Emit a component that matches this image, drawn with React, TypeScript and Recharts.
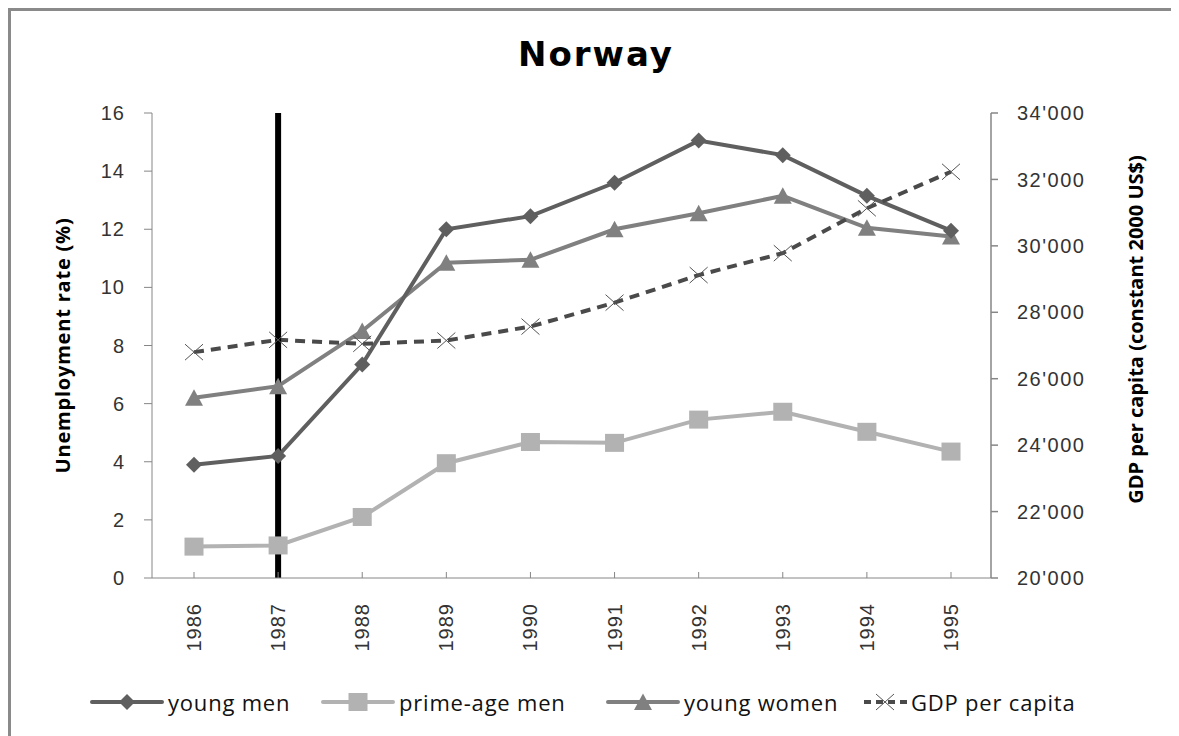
import { Line, LineChart, ReferenceLine, XAxis, YAxis } from "recharts";

const years = ["1986", "1987", "1988", "1989", "1990", "1991", "1992", "1993", "1994", "1995"];
const youngMen = [3.9, 4.2, 7.35, 12.0, 12.45, 13.6, 15.05, 14.55, 13.15, 11.95];
const primeAgeMen = [1.08, 1.12, 2.1, 3.95, 4.68, 4.65, 5.45, 5.72, 5.03, 4.35];
const youngWomen = [6.2, 6.6, 8.5, 10.85, 10.95, 12.0, 12.55, 13.15, 12.05, 11.75];
const gdpPerCapita = [26800, 27170, 27050, 27150, 27570, 28290, 29120, 29780, 31130, 32230];
const leftTicks = [0, 2, 4, 6, 8, 10, 12, 14, 16];
const rightTicks = [20000, 22000, 24000, 26000, 28000, 30000, 32000, 34000];

const data = years.map((year, i) => ({
  year,
  youngMen: youngMen[i],
  primeAgeMen: primeAgeMen[i],
  youngWomen: youngWomen[i],
  gdp: gdpPerCapita[i],
}));

const C_MEN = "#5f5f5f";
const C_PRIME = "#b2b2b2";
const C_WOMEN = "#808080";
const C_GDP = "#4a4a4a";
const AXIS = "#868686";
const TICK_FONT = "'Liberation Sans', Arial, sans-serif";
const LABEL_FONT = "'Open Sans', sans-serif";

const fmtThousands = (v: number) => `${Math.floor(v / 1000)}'${String(v % 1000).padStart(3, "0")}`;

const Diamond = ({ cx, cy }: any) =>
  cx == null ? null : (
    <path d={`M${cx},${cy - 8} L${cx + 8},${cy} L${cx},${cy + 8} L${cx - 8},${cy} Z`} fill={C_MEN} />
  );
const Square = ({ cx, cy }: any) =>
  cx == null ? null : <rect x={cx - 9.5} y={cy - 9} width={19} height={18} fill={C_PRIME} />;
const Triangle = ({ cx, cy }: any) =>
  cx == null ? null : (
    <path d={`M${cx},${cy - 8.5} L${cx + 9},${cy + 8} L${cx - 9},${cy + 8} Z`} fill={C_WOMEN} />
  );
const Cross = ({ cx, cy }: any) =>
  cx == null ? null : (
    <path d={`M${cx - 9},${cy - 8} L${cx + 9},${cy + 8} M${cx + 9},${cy - 8} L${cx - 9},${cy + 8}`} stroke="#555" strokeWidth={1} fill="none" />
  );

const YearTick = ({ x, y, payload }: any) => (
  <text
    x={x}
    y={y}
    transform={`rotate(-90 ${x} ${y})`}
    textAnchor="end"
    dy="0.35em"
    fill="#333"
    fontSize={20}
    fontFamily={TICK_FONT}
    letterSpacing={1}
  >
    {payload.value}
  </text>
);

const AxisTitle = ({ viewBox, text, dx, dy, spacing }: any) => {
  const cx = viewBox.x + dx;
  const cy = viewBox.y + viewBox.height / 2 + (dy || 0);
  return (
    <text
      x={cx}
      y={cy}
      transform={`rotate(-90 ${cx} ${cy})`}
      textAnchor="middle"
      dominantBaseline="central"
      fontSize={20}
      fontWeight="bold"
      fontFamily={LABEL_FONT}
      letterSpacing={spacing || 0}
      fill="#000"
    >
      {text}
    </text>
  );
};

// where each legend text starts (wrapper coords)
const legendItems = [
  { name: "young men", color: C_MEN, marker: "diamond", left: 157 },
  { name: "prime-age men", color: C_PRIME, marker: "square", left: 388 },
  { name: "young women", color: C_WOMEN, marker: "triangle", left: 673 },
  { name: "GDP per capita", color: C_GDP, marker: "cross", left: 900 },
];

const LegendIcon = ({ color, marker }: any) =>
  marker === "cross" ? (
    <svg width={74} height={24} style={{ display: "block" }}>
      <line x1={31} y1={12} x2={74} y2={12} stroke={color} strokeWidth={4} strokeDasharray="7 5" />
      <Cross cx={52} cy={12} />
    </svg>
  ) : (
    <svg width={74} height={24} style={{ display: "block" }}>
      <line x1={2} y1={12} x2={72} y2={12} stroke={color} strokeWidth={4} strokeLinecap="round" />
      {marker === "diamond" && <Diamond cx={37} cy={12} />}
      {marker === "square" && <Square cx={37} cy={12} />}
      {marker === "triangle" && <Triangle cx={37} cy={12} />}
    </svg>
  );

export default function App() {
  return (
    <div
      style={{
        position: "relative",
        width: 1220,
        height: 760,
        borderLeft: "3px solid #8a8a8a",
        borderTop: "3px solid #8a8a8a",
        boxSizing: "border-box",
        background: "#fff",
        overflow: "hidden",
      }}
    >
      <style>{"html,body{overflow:hidden}"}</style>
      <div
        style={{
          position: "absolute",
          left: 0,
          top: 26,
          width: 1170,
          textAlign: "center",
          fontFamily: "'DejaVu Sans', sans-serif",
          fontWeight: "bold",
          fontSize: 34,
          lineHeight: "34px",
          letterSpacing: 2,
          color: "#000",
        }}
      >
        Norway
      </div>
      <div style={{ position: "absolute", left: -3, top: -3 }}>
        <LineChart width={1150} height={720} data={data} margin={{ top: 105, right: 0, bottom: 80, left: 0 }}>
          <XAxis
            dataKey="year"
            padding={{ left: 42, right: 40 }}
            stroke={AXIS}
            tickSize={-6}
            tickMargin={31}
            height={70}
            tick={<YearTick />}
            interval={0}
          />
          <YAxis
            yAxisId="left"
            domain={[0, 16]}
            ticks={leftTicks}
            width={144}
            stroke={AXIS}
            tickSize={8}
            tickMargin={19}
            tick={{ fill: "#333", fontSize: 20, fontFamily: TICK_FONT, letterSpacing: 1 }}
            label={{ content: (p: any) => <AxisTitle {...p} text="Unemployment rate (%)" dx={54} spacing={0.8} /> }}
          />
          <YAxis
            yAxisId="right"
            orientation="right"
            domain={[20000, 34000]}
            ticks={rightTicks}
            width={167}
            stroke={AXIS}
            strokeWidth={1.5}
            tickSize={7}
            tickMargin={19}
            tickFormatter={fmtThousands}
            tick={{ fill: "#333", fontSize: 20, fontFamily: TICK_FONT, letterSpacing: 1.5, textAnchor: "start" }}
            label={{ content: (p: any) => <AxisTitle {...p} text="GDP per capita (constant 2000 US$)" dx={144} dy={-16} /> }}
          />
          <Line
            yAxisId="left"
            dataKey="primeAgeMen"
            stroke={C_PRIME}
            strokeWidth={4}
            dot={<Square />}
            activeDot={false}
            isAnimationActive={false}
          />
          <Line
            yAxisId="left"
            dataKey="youngWomen"
            stroke={C_WOMEN}
            strokeWidth={4}
            dot={<Triangle />}
            activeDot={false}
            isAnimationActive={false}
          />
          <Line
            yAxisId="left"
            dataKey="youngMen"
            stroke={C_MEN}
            strokeWidth={4}
            dot={<Diamond />}
            activeDot={false}
            isAnimationActive={false}
          />
          <Line
            yAxisId="right"
            dataKey="gdp"
            stroke={C_GDP}
            strokeWidth={4}
            strokeDasharray="10 7"
            dot={<Cross />}
            activeDot={false}
            isAnimationActive={false}
          />
          <ReferenceLine yAxisId="left" x="1987" stroke="#000" strokeWidth={6} />
        </LineChart>
      </div>
      {legendItems.map((it) => (
        <div
          key={it.name}
          style={{
            position: "absolute",
            left: it.left - 78,
            top: 676,
            display: "flex",
            alignItems: "center",
            fontFamily: LABEL_FONT,
            fontSize: 22,
            letterSpacing: 0.8,
            color: "#111",
            whiteSpace: "nowrap",
          }}
        >
          <LegendIcon color={it.color} marker={it.marker} />
          <span style={{ marginLeft: 4 }}>{it.name}</span>
        </div>
      ))}
    </div>
  );
}
